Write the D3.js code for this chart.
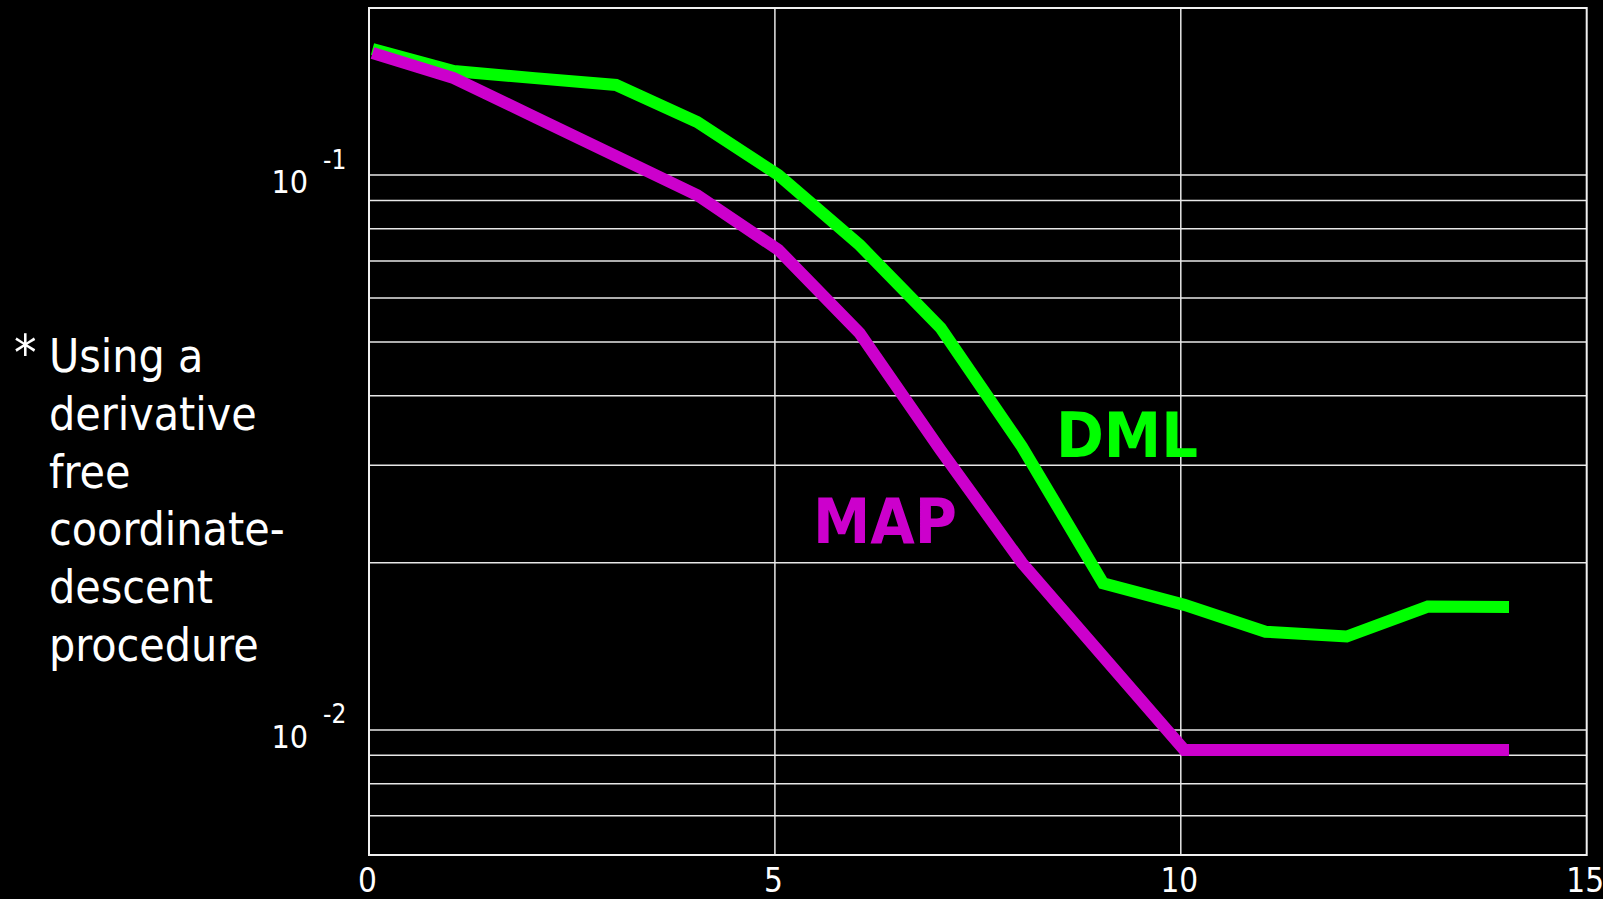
<!DOCTYPE html>
<html>
<head>
<meta charset="utf-8">
<script src="https://cdn.jsdelivr.net/npm/d3@7"></script>
<style>
  html, body { margin: 0; padding: 0; background: #000; }
  svg { display: block; }
</style>
</head>
<body>
<script>
// ---- data ----
const iterations = [0, 1, 2, 3, 4, 5, 6, 7, 8, 9, 10, 11, 12, 13, 14];
const dmlValues = [0.1687, 0.154, 0.1495, 0.1453, 0.1246, 0.100, 0.0748, 0.0530, 0.0324, 0.01837, 0.0168, 0.01503, 0.01473, 0.01668, 0.01666];
const mapValues = [0.1659, 0.1495, 0.1272, 0.1082, 0.0920, 0.0733, 0.0519, 0.0319, 0.0200, 0.01356, 0.0092, 0.0092, 0.0092, 0.0092, 0.0092];
const xTickValues = [0, 5, 10, 15];
const yMajorTicks = [0.1, 0.01];
const yMajorExponents = ["-1", "-2"];
const yGridValues = [0.007, 0.008, 0.009, 0.01, 0.02, 0.03, 0.04, 0.05, 0.06, 0.07, 0.08, 0.09, 0.1];
const xGridValues = [5, 10];
const noteLines = ["Using a", "derivative", "free", "coordinate-", "descent", "procedure"];
const seriesNames = ["DML", "MAP"];

// ---- layout ----
(function () {
const W = 1603, H = 899;
const mLeft = 369, mRight = 1586.7, mTop = 8, mBottom = 855;
const FONT = "'DejaVu Sans Condensed', 'DejaVu Sans', sans-serif";

const svg = d3.select("body").append("svg").attr("width", W).attr("height", H)
  .style("background", "#000");

const x = d3.scaleLinear().domain([0, 15]).range([mLeft, mRight]);
const y = d3.scaleLog().domain([0.00595, 0.2]).range([mBottom, mTop]);

// grid lines
svg.append("g").selectAll("line").data(yGridValues).join("line")
  .attr("x1", mLeft).attr("x2", mRight)
  .attr("y1", d => y(d)).attr("y2", d => y(d))
  .attr("stroke", "#e8e8e8").attr("stroke-width", 1.5);
svg.append("g").selectAll("line").data(xGridValues).join("line")
  .attr("y1", mTop).attr("y2", mBottom)
  .attr("x1", d => x(d)).attr("x2", d => x(d))
  .attr("stroke", "#e8e8e8").attr("stroke-width", 1.5);

// frame
svg.append("rect").attr("x", mLeft).attr("y", mTop)
  .attr("width", mRight - mLeft).attr("height", mBottom - mTop)
  .attr("fill", "none").attr("stroke", "#f0f0f0").attr("stroke-width", 2);

// x axis labels
const xAxis = svg.append("g").attr("transform", `translate(0,${mBottom})`)
  .call(d3.axisBottom(x).tickValues(xTickValues).tickSize(0).tickPadding(0).tickFormat(d3.format("d")));
xAxis.select(".domain").remove();
xAxis.selectAll("text")
  .attr("y", 37).attr("dy", null).attr("x", -2)
  .attr("fill", "#fff")
  .style("font-family", FONT).style("font-stretch", "condensed")
  .style("font-size", "33px");

// y axis labels (10 with superscript exponent)
const yAxis = svg.append("g").attr("transform", `translate(${mLeft},0)`)
  .call(d3.axisLeft(y).tickValues(yMajorTicks).tickSize(0).tickFormat(() => ""));
yAxis.select(".domain").remove();
yAxis.selectAll(".tick").each(function (d, i) {
  const g = d3.select(this);
  g.select("text").remove();
  g.append("text")
    .attr("x", -61).attr("y", 17.5)
    .attr("text-anchor", "end")
    .attr("fill", "#fff")
    .style("font-family", FONT).style("font-stretch", "condensed")
    .style("font-size", "32px")
    .text("10");
  g.append("text")
    .attr("x", -46).attr("y", -7)
    .attr("text-anchor", "start")
    .attr("fill", "#fff")
    .style("font-family", FONT).style("font-stretch", "condensed")
    .style("font-size", "26px")
    .text(yMajorExponents[i]);
});

// lines (drawn with a small horizontal offset, as in the original plot)
const line = d3.line().x(d => x(d[0]) + 3.5).y(d => y(d[1]));
const dmlData = iterations.map((it, i) => [it, dmlValues[i]]);
const mapData = iterations.map((it, i) => [it, mapValues[i]]);

svg.append("path").datum(dmlData).attr("d", line)
  .attr("fill", "none").attr("stroke", "#00ff00").attr("stroke-width", 12)
  .attr("stroke-linejoin", "miter").attr("stroke-linecap", "butt");
svg.append("path").datum(mapData).attr("d", line)
  .attr("fill", "none").attr("stroke", "#cc00cc").attr("stroke-width", 12)
  .attr("stroke-linejoin", "miter").attr("stroke-linecap", "butt");

// series labels
svg.append("text").attr("x", 1056).attr("y", 457)
  .attr("fill", "#00ff00")
  .style("font-family", FONT).style("font-stretch", "condensed")
  .style("font-weight", "bold").style("font-size", "63px")
  .attr("textLength", 142).attr("lengthAdjust", "spacingAndGlyphs")
  .text(seriesNames[0]);
svg.append("text").attr("x", 813).attr("y", 543)
  .attr("fill", "#cc00cc")
  .style("font-family", FONT).style("font-stretch", "condensed")
  .style("font-weight", "bold").style("font-size", "63px")
  .attr("textLength", 144).attr("lengthAdjust", "spacingAndGlyphs")
  .text(seriesNames[1]);

// side note
svg.append("text").attr("x", 14).attr("y", 370)
  .attr("fill", "#fff")
  .style("font-family", FONT).style("font-stretch", "condensed")
  .style("font-size", "50px")
  .text("*");
const note = svg.append("text")
  .attr("fill", "#fff")
  .style("font-family", FONT).style("font-stretch", "condensed")
  .style("font-size", "46px");
note.selectAll("tspan").data(noteLines).join("tspan")
  .attr("x", 49)
  .attr("y", (d, i) => 372 + i * 57.8)
  .text(d => d);
})();
</script>
</body>
</html>
